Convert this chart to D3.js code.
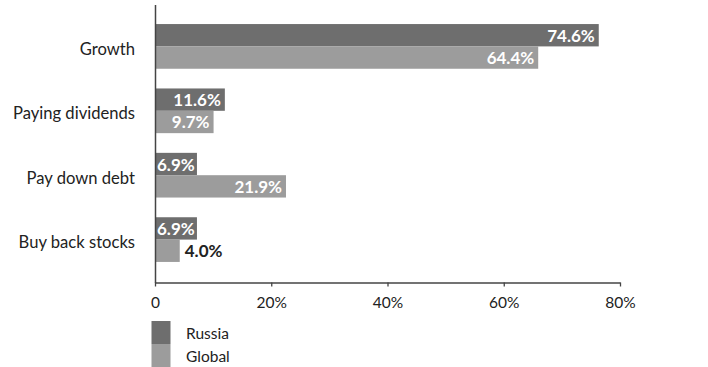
<!DOCTYPE html>
<html>
<head>
<meta charset="utf-8">
<script src="https://cdn.jsdelivr.net/npm/d3@7/dist/d3.min.js"></script>
<style>
  html, body { margin: 0; padding: 0; background: #fff; }
  svg { display: block; font-family: Lato, "Open Sans", sans-serif; }
</style>
</head>
<body>
<svg id="chart" width="708" height="367"></svg>
<script>
// Share of respondents by intended use of spare cash
const categories = ["Growth", "Paying dividends", "Pay down debt", "Buy back stocks"];
const seriesNames = ["Russia", "Global"];
const russia = [74.6, 11.6, 6.9, 6.9];
const global = [64.4, 9.7, 21.9, 4.0];
const tickValues = [0, 20, 40, 60, 80];
const tickLabels = ["0", "20%", "40%", "60%", "80%"];
const colors = ["#6e6e6e", "#9c9c9c"];

const svg = d3.select("#chart");
const textColor = "#222";

// Scales
const xBar = d3.scaleLinear().domain([0, 80]).range([156, 630.8]);
const xAxisScale = d3.scaleLinear().domain([0, 80]).range([155, 620]);
const y = d3.scaleBand().domain(categories).range([3, 283])
  .paddingInner(0.306).paddingOuter(0.327);
const ySub = d3.scaleBand().domain(seriesNames).range([0, y.bandwidth()]);
const color = d3.scaleOrdinal().domain(seriesNames).range(colors);

const rows = categories.map((c, i) => ({
  category: c,
  values: [
    { series: "Russia", value: russia[i] },
    { series: "Global", value: global[i] }
  ]
}));

// Bars
const groups = svg.append("g").selectAll("g.group")
  .data(rows).join("g")
  .attr("class", "group")
  .attr("transform", d => `translate(0,${y(d.category)})`);

groups.selectAll("rect")
  .data(d => d.values).join("rect")
  .attr("x", xBar(0))
  .attr("y", d => ySub(d.series))
  .attr("width", d => xBar(d.value) - xBar(0))
  .attr("height", ySub.bandwidth())
  .attr("fill", d => color(d.series));

// Value labels: inside the bar end when it fits, otherwise just past it
groups.selectAll("text.value")
  .data(d => d.values).join("text")
  .attr("class", "value")
  .attr("font-size", 17)
  .attr("font-weight", 700)
  .attr("y", d => ySub(d.series) + ySub.bandwidth() / 2 + 6.5)
  .text(d => d.value.toFixed(1) + "%")
  .each(function(d) {
    const w = this.getComputedTextLength();
    const barW = xBar(d.value) - xBar(0);
    const sel = d3.select(this);
    if (w + 1 <= barW) {
      const xEnd = Math.max(xBar(0) + w + 1, xBar(d.value) - 4);
      sel.attr("x", xEnd).attr("text-anchor", "end").attr("fill", "#fff");
    } else {
      sel.attr("x", xBar(d.value) + 5).attr("text-anchor", "start").attr("fill", textColor);
    }
  });

// Category labels
svg.append("g").selectAll("text")
  .data(categories).join("text")
  .attr("x", 135)
  .attr("y", d => y(d) + y.bandwidth() / 2 + 8.5)
  .attr("text-anchor", "end")
  .attr("font-size", 16.6)
  .attr("fill", textColor)
  .text(d => d);

// Vertical axis line
svg.append("line")
  .attr("x1", 155.5).attr("x2", 155.5)
  .attr("y1", 5).attr("y2", 283)
  .attr("stroke", "#444").attr("stroke-width", 1.5);

// Bottom axis
const xAxis = d3.axisBottom(xAxisScale)
  .tickValues(tickValues)
  .tickFormat((d, i) => tickLabels[i])
  .tickSize(4)
  .tickSizeOuter(0)
  .tickPadding(10);

const axisG = svg.append("g")
  .attr("transform", "translate(0,282.5)")
  .call(xAxis);
axisG.select(".domain").attr("stroke", "#444").attr("stroke-width", 1.3);
axisG.selectAll(".tick line").attr("stroke", "#444").attr("stroke-width", 1.3);
axisG.selectAll(".tick text")
  .attr("font-family", "Lato, 'Open Sans', sans-serif")
  .attr("font-size", 15.5)
  .attr("fill", textColor);

// Legend
const legend = svg.append("g").attr("transform", "translate(151.5,321)");
legend.selectAll("rect")
  .data(seriesNames).join("rect")
  .attr("x", 0)
  .attr("y", (d, i) => i * 23)
  .attr("width", 19)
  .attr("height", 23)
  .attr("fill", d => color(d));
legend.selectAll("text")
  .data(seriesNames).join("text")
  .attr("x", 34.5)
  .attr("y", (d, i) => i * 23 + 18)
  .attr("font-size", 15.5)
  .attr("fill", textColor)
  .text(d => d);
</script>
</body>
</html>
